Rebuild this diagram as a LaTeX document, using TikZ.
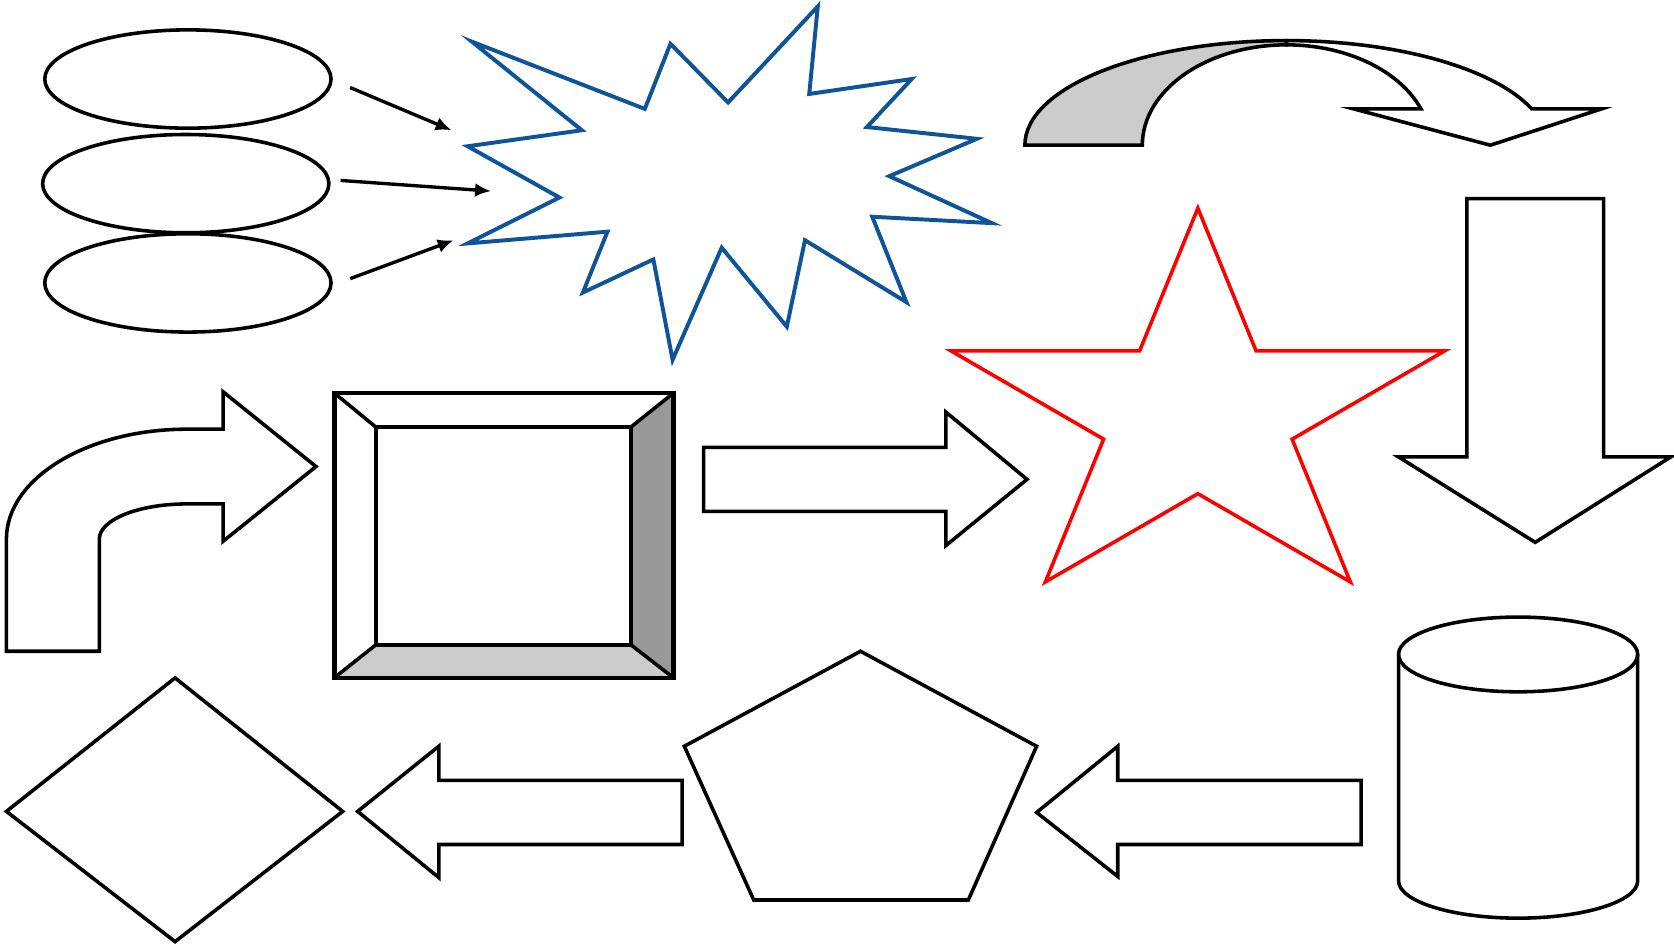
\documentclass[tikz,border=0pt]{standalone}
\usetikzlibrary{arrows.meta,shapes.geometric,calc}
\definecolor{BoomClr}{rgb}{0.06,0.33,0.59}
\definecolor{StarClr}{rgb}{1,0,0}
\definecolor{BevelDark}{gray}{0.6}
\definecolor{BevelLight}{gray}{0.8}

\tikzset{
  shapeline/.style={line width=0.95pt,black,line join=miter},
  oval/.style={ellipse,draw,line width=0.95pt,minimum width=2.68cm,minimum height=0.92cm,inner sep=0pt},
  pointer/.style={line width=0.9pt,-{Latex[length=1.5mm,width=1.3mm]}}
}

\begin{document}
\begin{tikzpicture}[x=0.01cm,y=-0.01cm]
\useasboundingbox (0,0) rectangle (1568,887);

\node[oval] (oval1) at (176,74) {};
\node[oval] (oval2) at (174,172) {};
\node[oval] (oval3) at (176,265) {};

\coordinate (s1) at (328,82);  \coordinate (t1) at (423,122);
\coordinate (s2) at (319,169); \coordinate (t2) at (460,179);
\coordinate (s3) at (328,261); \coordinate (t3) at (425,225);
\draw[pointer] (s1) -- (t1);
\draw[pointer] (s2) -- (t2);
\draw[pointer] (s3) -- (t3);

% explosion
\draw[line width=1.05pt,BoomClr,line join=miter]
  (442,39) -- (604,102) -- (628,41) -- (682,96) -- (766,6) -- (758,88) -- (854,74)
  -- (812,119) -- (915,130) -- (833,165) -- (929,209) -- (817,203) -- (849,283)
  -- (754,225) -- (737,306) -- (676,232) -- (630,337) -- (612,243) -- (546,274)
  -- (569,217) -- (438,228) -- (524,185) -- (438,137) -- (545,122) -- cycle;

% curved down arrow
\draw[shapeline] (1205,38) arc[start angle=270,end angle=339.7,x radius=245,y radius=98]
  -- (1500,102) -- (1396,136) -- (1268,102) -- (1331,102)
  arc[start angle=338.8,end angle=270,x radius=135,y radius=94] -- cycle;
\draw[shapeline,fill=BevelLight] (960,136) arc[start angle=180,end angle=270,x radius=245,y radius=98]
  -- (1205,42) arc[start angle=270,end angle=180,x radius=135,y radius=94] -- cycle;

% bent arrow
\draw[shapeline] (6,610) -- (6,505) arc[start angle=180,end angle=270,x radius=169,y radius=103]
  -- (209,402) -- (209,367) -- (296,437) -- (209,507) -- (209,472) -- (175,472)
  arc[start angle=270,end angle=180,x radius=82,y radius=33] -- (93,610) -- cycle;

% bevel
\fill[BevelDark] (591,400) -- (631,368) -- (631,635) -- (591,604) -- cycle;
\fill[BevelLight] (352,604) -- (591,604) -- (631,635) -- (313,635) -- cycle;
\draw[shapeline] (352,400) rectangle (591,604);
\draw[shapeline] (313,368) -- (352,400) (631,368) -- (591,400)
  (313,635) -- (352,604) (631,635) -- (591,604);
\draw[shapeline,line width=1.25pt] (313,368) rectangle (631,635);

% right arrow
\draw[shapeline] (659,419) -- (886,419) -- (886,386) -- (962,449) -- (886,511)
  -- (886,479) -- (659,479) -- cycle;

% star
\draw[line width=0.95pt,StarClr,line join=miter] (1122,195)
  \foreach \k [evaluate=\k as \r using {1-0.618*mod(\k,2)}] in {1,...,9}
  { -- ({1122+243*\r*cos(90+36*\k)},{388.5-193.5*\r*sin(90+36*\k)}) } -- cycle;

% down arrow
\draw[shapeline] (1374,186) -- (1502,186) -- (1502,428) -- (1565,428) -- (1438,508)
  -- (1310,428) -- (1374,428) -- cycle;

% cylinder
\draw[shapeline] (1310,613) -- (1310,825) arc[start angle=180,end angle=0,x radius=112,y radius=35]
  -- (1534,613);
\draw[shapeline] (1422,613) ellipse[x radius=112,y radius=35];

% bottom row
\draw[shapeline] (6,760) -- (164,635) -- (321,760) -- (164,882) -- cycle;
\draw[shapeline] (335,760) -- (411,699) -- (411,731) -- (639,731) -- (639,791)
  -- (411,791) -- (411,822) -- cycle;
\draw[shapeline] (806,610) -- (971,699) -- (907,843) -- (706,843) -- (641,699) -- cycle;
\draw[shapeline] (971,761) -- (1047,699) -- (1047,731) -- (1275,731) -- (1275,791)
  -- (1047,791) -- (1047,821) -- cycle;

\end{tikzpicture}
\end{document}
